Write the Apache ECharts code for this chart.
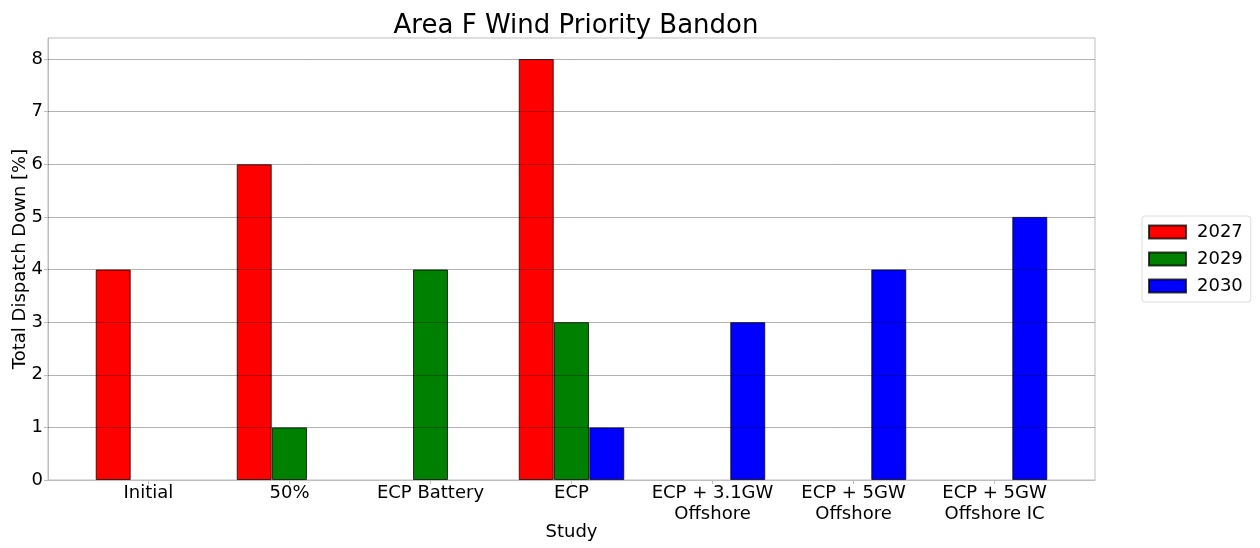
<!DOCTYPE html>
<html>
<head>
<meta charset="utf-8">
<script src="https://cdn.jsdelivr.net/npm/echarts@6/dist/echarts.min.js"></script>
<style>html,body{margin:0;padding:0;background:#fff;}#c{width:1260px;height:548px;}</style>
</head>
<body>
<div id="c"></div>
<script>
const categories = ['Initial', '50%', 'ECP Battery', 'ECP', 'ECP + 3.1GW\nOffshore', 'ECP + 5GW\nOffshore', 'ECP + 5GW\nOffshore IC'];
const years = ['2027', '2029', '2030'];
const v2027 = [4, 6, 0, 8, 0, 0, 0];
const v2029 = [0, 1, 4, 3, 0, 0, 0];
const v2030 = [0, 0, 0, 1, 3, 4, 5];
const yTicks = [1, 2, 3, 4, 5, 6, 7, 8];
const colors = ['#ff0000', '#008000', '#0000ff'];
const offsets = [-0.25, 0, 0.25];

const font = 'DejaVu Sans';
const values = [v2027, v2029, v2030];

const series = years.map((y, k) => ({
  name: y,
  type: 'bar',
  barWidth: 35,
  barGap: '-100%',
  z: 2,
  itemStyle: { color: colors[k], borderColor: 'rgba(0,0,0,0.75)', borderWidth: 1 },
  data: values[k].map((v, i) => v > 0 ? [i + offsets[k], v] : null).filter(d => d)
}));
series.push({
  name: 'grid',
  type: 'line',
  data: [],
  z: 10,
  silent: true,
  markLine: {
    silent: true,
    symbol: ['none', 'none'],
    label: { show: false },
    lineStyle: { color: 'rgba(0,0,0,0.3)', type: 'solid', width: 1 },
    emphasis: { disabled: true },
    animation: false,
    data: yTicks.map(t => ({ yAxis: t }))
  }
});

const chart = echarts.init(document.getElementById('c'), null, { renderer: 'canvas' });
chart.setOption({
  animation: false,
  backgroundColor: '#fff',
  title: {
    text: 'Area F Wind Priority Bandon',
    left: 571, top: 8, textAlign: 'center',
    textStyle: { fontFamily: font, fontSize: 26, fontWeight: 'normal', color: '#000' }
  },
  legend: {
    data: years,
    orient: 'vertical',
    left: 1142, top: 216,
    itemWidth: 37, itemHeight: 13, itemGap: 9,
    padding: [7, 8, 7, 6],
    borderColor: '#dcdcdc', borderWidth: 1, borderRadius: 3,
    icon: 'rect',
    textStyle: { fontFamily: font, fontSize: 18, color: '#000', padding: [0, 0, 0, 6] }
  },
  grid: { left: 48, right: 165, top: 38, bottom: 68, show: true, borderColor: '#bdbdbd', borderWidth: 1, outerBoundsMode: 'none', containLabel: false },
  xAxis: {
    type: 'value',
    min: -0.7125, max: 6.7125,
    name: 'Study', nameLocation: 'middle', nameGap: 43, nameMoveOverlap: false,
    nameTextStyle: { fontFamily: font, fontSize: 18, color: '#000' },
    axisLine: { show: true, onZero: false, lineStyle: { color: '#bdbdbd' } },
    axisTick: { show: true, length: 4, lineStyle: { color: '#bdbdbd' }, customValues: categories.map((c, i) => i) },
    axisLabel: {
      customValues: categories.map((c, i) => i),
      formatter: v => categories[Math.round(v)] || '',
      fontFamily: font, fontSize: 18, color: '#000', margin: 3, lineHeight: 21
    },
    splitLine: { show: false }
  },
  yAxis: {
    type: 'value',
    min: 0, max: 8.4, interval: 1,
    name: 'Total Dispatch Down [%]', nameLocation: 'middle', nameGap: 19, nameRotate: 90, nameMoveOverlap: false,
    nameTextStyle: { fontFamily: font, fontSize: 18, color: '#000' },
    axisLine: { show: true, onZero: false, lineStyle: { color: '#bdbdbd' } },
    axisTick: { show: true, length: 4, lineStyle: { color: '#bdbdbd' } },
    axisLabel: { fontFamily: font, fontSize: 18, color: '#000', margin: 5, showMaxLabel: false,
      formatter: v => Number.isInteger(v) ? String(v) : '' },
    splitLine: { show: false }
  },
  series: series
});
</script>
</body>
</html>
